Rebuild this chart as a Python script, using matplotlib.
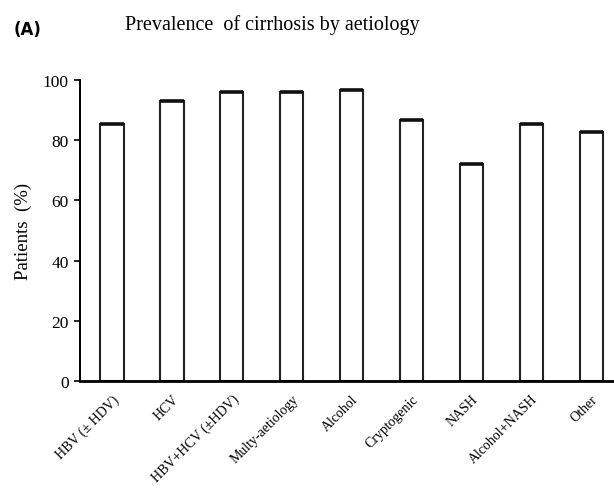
import matplotlib
matplotlib.use('Agg')
import matplotlib.pyplot as plt
import numpy as np

categories = ['HBV (\u00b1 HDV)', 'HCV', 'HBV+HCV (\u00b1HDV)', 'Multy-aetiology', 'Alcohol',
              'Cryptogenic', 'NASH', 'Alcohol+NASH', 'Other']
patients_pct = [85.3, 93.0, 96.0, 96.0, 96.6, 86.8, 72.0, 85.3, 82.6]
yticks = [0, 20, 40, 60, 80, 100]

serif = ['Liberation Serif', 'DejaVu Serif']

fig = plt.figure(figsize=(6.14, 4.89), dpi=100)
ax = fig.add_axes([0.1303, 0.2188, 0.8697, 0.6156])

x = np.arange(len(categories))
ax.bar(x, patients_pct, width=0.39, color='white', edgecolor='#222222', linewidth=1.5)
# heavier top edge on each bar, like the original
ax.hlines(patients_pct, x - 0.195, x + 0.195, color='#111111', linewidth=2.6)

ax.set_xlim(-0.534, 8.38)
ax.set_ylim(0, 100)
ax.set_yticks(yticks)
ax.set_yticklabels([str(t) for t in yticks], fontfamily=serif, fontsize=12.5)
ax.set_xticks(x)
ax.set_xticklabels(categories, rotation=45, ha='right', va='top', rotation_mode='anchor',
                   fontfamily=serif, fontsize=10)
ax.tick_params(axis='x', length=0, pad=8)
ax.tick_params(axis='y', length=4, width=1.2, direction='out', pad=4)

for s in ['top', 'right']:
    ax.spines[s].set_visible(False)
ax.spines['left'].set_linewidth(1.4)
ax.spines['bottom'].set_linewidth(2.0)

ax.set_ylabel('Patients  (%)', fontfamily=serif, fontsize=13.5, labelpad=8)

fig.text(0.443, 0.948, 'Prevalence  of cirrhosis by aetiology', ha='center', va='center',
         fontfamily=serif, fontsize=14.5)
fig.text(0.022, 0.938, '(A)', ha='left', va='center', fontweight='bold', fontsize=12)

plt.savefig('out.png', dpi=100)
plt.close()
